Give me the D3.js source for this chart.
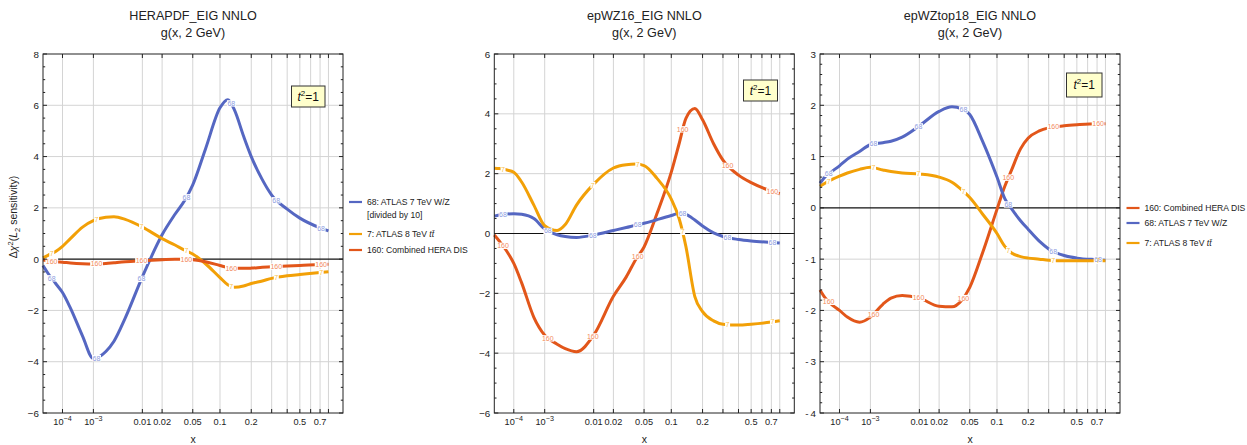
<!DOCTYPE html>
<html><head><meta charset="utf-8">
<script src="https://cdn.jsdelivr.net/npm/d3@7"></script>
<style>body{margin:0;background:#fff} svg{display:block} text{font-family:"Liberation Sans",Arial,sans-serif}</style>
</head><body><svg id="c" width="1247" height="445"></svg>
<script>
// ---------- data ----------
const xGrid = [1e-5, 2e-5, 5e-5, 1e-4, 2e-4, 5e-4, 1e-3, 2e-3, 3e-3, 5e-3, 0.01, 0.02, 0.03, 0.04, 0.05, 0.07, 0.1, 0.12, 0.14, 0.17, 0.2, 0.25, 0.3, 0.4, 0.5, 0.7, 0.8];

const hera68  = [-0.25,-0.55,-0.95,-1.3,-1.9,-3.0,-3.88,-3.6,-3.2,-2.3,-0.69,0.95,1.75,2.3,2.9,4.3,5.9,6.22,5.8,4.8,4.0,3.1,2.5,1.95,1.6,1.22,1.1];
const hera7   = [0.05,0.15,0.3,0.5,0.8,1.25,1.5,1.63,1.65,1.55,1.25,0.8,0.55,0.35,0.2,-0.18,-0.72,-1.0,-1.1,-1.05,-0.95,-0.85,-0.75,-0.65,-0.6,-0.52,-0.49];
const hera160 = [-0.03,-0.06,-0.1,-0.12,-0.15,-0.18,-0.19,-0.17,-0.14,-0.1,-0.06,-0.02,0.0,0.0,-0.02,-0.1,-0.25,-0.33,-0.36,-0.36,-0.35,-0.32,-0.3,-0.27,-0.25,-0.21,-0.2];

const wz16_68  = [0.58,0.62,0.65,0.66,0.64,0.5,0.15,-0.04,-0.1,-0.13,-0.05,0.1,0.2,0.28,0.34,0.46,0.6,0.68,0.64,0.45,0.25,0.02,-0.1,-0.2,-0.25,-0.3,-0.32];
const wz16_7   = [2.18,2.17,2.12,2.05,1.72,0.95,0.26,0.1,0.3,0.95,1.65,2.19,2.3,2.32,2.27,1.85,1.15,0.5,-0.44,-2.11,-2.61,-2.92,-3.03,-3.06,-3.03,-2.96,-2.92];
const wz16_160 = [-0.05,-0.25,-0.6,-1.0,-1.65,-2.8,-3.4,-3.7,-3.85,-3.95,-3.4,-2.1,-1.45,-0.85,-0.45,0.65,2.05,3.0,3.85,4.18,3.8,3.0,2.45,1.95,1.7,1.42,1.33];

const top18_160 = [-1.6,-1.75,-1.9,-2.0,-2.13,-2.23,-2.13,-1.88,-1.76,-1.71,-1.76,-1.92,-1.93,-1.8,-1.55,-0.88,-0.03,0.42,0.74,1.15,1.36,1.5,1.56,1.6,1.62,1.64,1.64];
const top18_68  = [0.48,0.6,0.72,0.82,0.95,1.1,1.23,1.27,1.3,1.38,1.6,1.88,1.97,1.93,1.82,1.3,0.6,0.18,-0.02,-0.25,-0.42,-0.65,-0.8,-0.93,-0.98,-1.01,-1.02];
const top18_7   = [0.42,0.48,0.56,0.62,0.68,0.75,0.79,0.74,0.71,0.68,0.66,0.6,0.5,0.35,0.2,-0.12,-0.5,-0.75,-0.88,-0.95,-0.98,-1.0,-1.02,-1.03,-1.03,-1.03,-1.03];

const labelXs = [3.18e-5, 1.2e-3, 9.67e-3, 0.0419, 0.13, 0.327, 0.712];
const xGridLines = [1e-4, 1e-3, 0.01, 0.02, 0.05, 0.1, 0.2, 0.3, 0.4, 0.5, 0.6, 0.7, 0.8];
const xTickVals = [1e-4, 1e-3, 0.01, 0.02, 0.05, 0.1, 0.2, 0.5, 0.7];
const xTickText = [["10","−4"],["10","−3"],["0.01"],["0.02"],["0.05"],["0.1"],["0.2"],["0.5"],["0.7"]];
const yTicksA = [-6,-4,-2,0,2,4,6,8];
const yTicksB = [-6,-4,-2,0,2,4,6];
const yTicksC = [-4,-3,-2,-1,0,1,2,3];
const titles = ["HERAPDF_EIG NNLO","epWZ16_EIG NNLO","epWZtop18_EIG NNLO"];
const subtitle = "g(x, 2 GeV)";

// ---------- style ----------
const C = {b:"#5567c2", o:"#f2a007", r:"#e2561a"};
const CL = {b:"#8e9ce0", o:"#f9c04a", r:"#f28a5c"};

const svg = d3.select("#c");
const pTop = 54, pBottom = 413, W = 300;

const panels = [
  {left:43, dom:[-6,8], ticks:yTicksA, minor:0.5, fmt:d=>d<0?"−"+(-d):""+d, title:titles[0],
   series:[{v:hera68,c:"b",lab:"68"},{v:hera7,c:"o",lab:"7"},{v:hera160,c:"r",lab:"160"}],
   box:[291.5,86,33.5,21]},
  {left:494.3, dom:[-6,6], ticks:yTicksB, minor:0.5, fmt:d=>d<0?"−"+(-d):""+d, title:titles[1],
   series:[{v:wz16_160,c:"r",lab:"160"},{v:wz16_68,c:"b",lab:"68"},{v:wz16_7,c:"o",lab:"7",skip:[1]}],
   box:[743.5,80,34,21]},
  {left:820, dom:[-4,3], ticks:yTicksC, minor:0.2, fmt:d=>d<0?"-\u2009"+(-d):""+d, title:titles[2],
   series:[{v:top18_160,c:"r",lab:"160"},{v:top18_68,c:"b",lab:"68"},{v:top18_7,c:"o",lab:"7"}],
   box:[1066.5,73,35.5,24]}
];

panels.forEach(P => {
  const x = d3.scalePow().exponent(0.2).domain([1e-5,1]).range([P.left, P.left+W]);
  const y = d3.scaleLinear().domain(P.dom).range([pBottom, pTop]);
  const g = svg.append("g");
  const cx = P.left + W/2;
  g.append("text").attr("x",cx).attr("y",20).attr("text-anchor","middle").attr("font-size",12.6).attr("fill","#222").text(P.title);
  g.append("text").attr("x",cx).attr("y",37.3).attr("text-anchor","middle").attr("font-size",12.6).attr("fill","#222").text(subtitle);
  xGridLines.forEach(v => g.append("line").attr("x1",x(v)).attr("x2",x(v)).attr("y1",pTop).attr("y2",pBottom)
     .attr("stroke","#d4d4d4").attr("stroke-width",1));
  P.ticks.forEach(v => { if (v!==0 && v!==P.dom[0] && v!==P.dom[1])
     g.append("line").attr("x1",P.left).attr("x2",P.left+W).attr("y1",y(v)).attr("y2",y(v)).attr("stroke","#d4d4d4").attr("stroke-width",1); });
  g.append("line").attr("x1",P.left).attr("x2",P.left+W).attr("y1",y(0)).attr("y2",y(0)).attr("stroke","#111").attr("stroke-width",1.1);
  const line = d3.line().x((d,i)=>x(xGrid[i])).y(d=>y(d)).curve(d3.curveMonotoneX);
  const paths = P.series.map(s => g.append("path").datum(s.v).attr("d",line).attr("fill","none")
      .attr("stroke",C[s.c]).attr("stroke-width",3).attr("stroke-linecap","butt"));
  const lg = g.append("g");
  P.series.forEach((s,si) => {
    const node = paths[si].node(); const L = node.getTotalLength();
    labelXs.forEach((lx,k) => {
      if (s.skip && s.skip.includes(k)) return;
      const xt = x(lx); let lo=0, hi=L;
      for (let it=0; it<40; it++){ const m=(lo+hi)/2; if (node.getPointAtLength(m).x < xt) lo=m; else hi=m; }
      const p = node.getPointAtLength(lo);
      const t = lg.append("text").attr("x",p.x).attr("y",p.y+2.5).attr("text-anchor","middle")
          .attr("font-size",7).attr("fill",CL[s.c]).text(s.lab);
      const bb = t.node().getBBox();
      lg.insert("rect","text").attr("x",bb.x-0.5).attr("y",p.y-3.2).attr("width",bb.width+1).attr("height",6.4).attr("fill","#fff");
    });
  });
  g.append("rect").attr("x",P.left).attr("y",pTop).attr("width",W).attr("height",pBottom-pTop)
   .attr("fill","none").attr("stroke","#222").attr("stroke-width",1);
  xGridLines.forEach(v => {
    g.append("line").attr("x1",x(v)).attr("x2",x(v)).attr("y1",pBottom).attr("y2",pBottom-4).attr("stroke","#222");
    g.append("line").attr("x1",x(v)).attr("x2",x(v)).attr("y1",pTop).attr("y2",pTop+4).attr("stroke","#222");
  });
  const minorTicks = d3.range(P.dom[0], P.dom[1]+1e-9, P.minor);
  minorTicks.forEach(v => {
    const major = P.ticks.some(t => Math.abs(t-v)<1e-6);
    const len = major?4:2.2;
    g.append("line").attr("x1",P.left).attr("x2",P.left+len).attr("y1",y(v)).attr("y2",y(v)).attr("stroke","#222");
    g.append("line").attr("x1",P.left+W).attr("x2",P.left+W-len).attr("y1",y(v)).attr("y2",y(v)).attr("stroke","#222");
  });
  P.ticks.forEach(v => g.append("text").attr("x",P.left-4).attr("y",y(v)+3.5).attr("text-anchor","end")
     .attr("font-size",9.8).attr("fill","#222").text(P.fmt(v)));
  xTickVals.forEach((v,i) => {
    const t = g.append("text").attr("x",x(v)).attr("y",425).attr("text-anchor","middle").attr("font-size",9.2).attr("fill","#222");
    const parts = xTickText[i];
    t.append("tspan").text(parts[0]);
    if (parts[1]) t.append("tspan").attr("dy",-4).attr("font-size",7.2).text(parts[1]);
  });
  g.append("text").attr("x",cx).attr("y",442.5).attr("text-anchor","middle").attr("font-size",10.5).attr("fill","#222").text("x");
  const [bx,by,bw,bh] = P.box;
  g.append("rect").attr("x",bx).attr("y",by).attr("width",bw).attr("height",bh).attr("fill","#ffffcc").attr("stroke","#333").attr("stroke-width",1);
  const tt = g.append("text").attr("x",bx+bw/2).attr("y",by+bh/2+4.3).attr("text-anchor","middle").attr("font-size",12).attr("fill","#111");
  tt.append("tspan").attr("font-style","italic").text("t");
  tt.append("tspan").attr("dy",-5).attr("font-size",8).text("2");
  tt.append("tspan").attr("dy",5).text("=1");
});

const yt = svg.append("text").attr("transform","translate(17,217) rotate(-90)").attr("text-anchor","middle").attr("font-size",10.5).attr("fill","#222");
yt.append("tspan").text("Δ");
yt.append("tspan").attr("font-style","italic").text("χ");
yt.append("tspan").attr("dy",-3.8).attr("font-size",7.5).text("2");
yt.append("tspan").attr("dy",3.8).text("(");
yt.append("tspan").attr("font-style","italic").text("L");
yt.append("tspan").attr("dy",2.6).attr("font-size",7.5).text("2");
yt.append("tspan").attr("dy",-2.6).text(" sensitivity)");

function legendItem(x0, yc, color, label, bar) {
  svg.append("line").attr("x1",x0).attr("x2",x0+13).attr("y1",yc).attr("y2",yc).attr("stroke",color).attr("stroke-width",2.2);
  const t = svg.append("text").attr("x",x0+18).attr("y",yc+3).attr("font-size",8.6).attr("fill","#222");
  t.append("tspan").text(label);
  if (bar) { t.append("tspan").attr("font-style","italic").text("t"); t.append("tspan").attr("font-style","italic").text("t\u0304"); }
  return t;
}
const legendA = [
  {c:C.b, t:"68: ATLAS 7 TeV W/Z"},
  {c:C.o, t:"7: ATLAS 8 TeV ", bar:true},
  {c:C.r, t:"160: Combined HERA DIS"}
];
const legendC = [
  {c:C.r, t:"160: Combined HERA DIS"},
  {c:C.b, t:"68: ATLAS 7 TeV W/Z"},
  {c:C.o, t:"7: ATLAS 8 TeV ", bar:true}
];
const legAy = [202, 234, 250];
legendA.forEach((d,i)=>legendItem(349, legAy[i], d.c, d.t, d.bar));
svg.append("text").attr("x",367).attr("y",217.8).attr("font-size",8.6).attr("fill","#222").text("[divided by 10]");
const legCy = [208, 223, 243];
legendC.forEach((d,i)=>legendItem(1126.5, legCy[i], d.c, d.t, d.bar));
</script></body></html>
